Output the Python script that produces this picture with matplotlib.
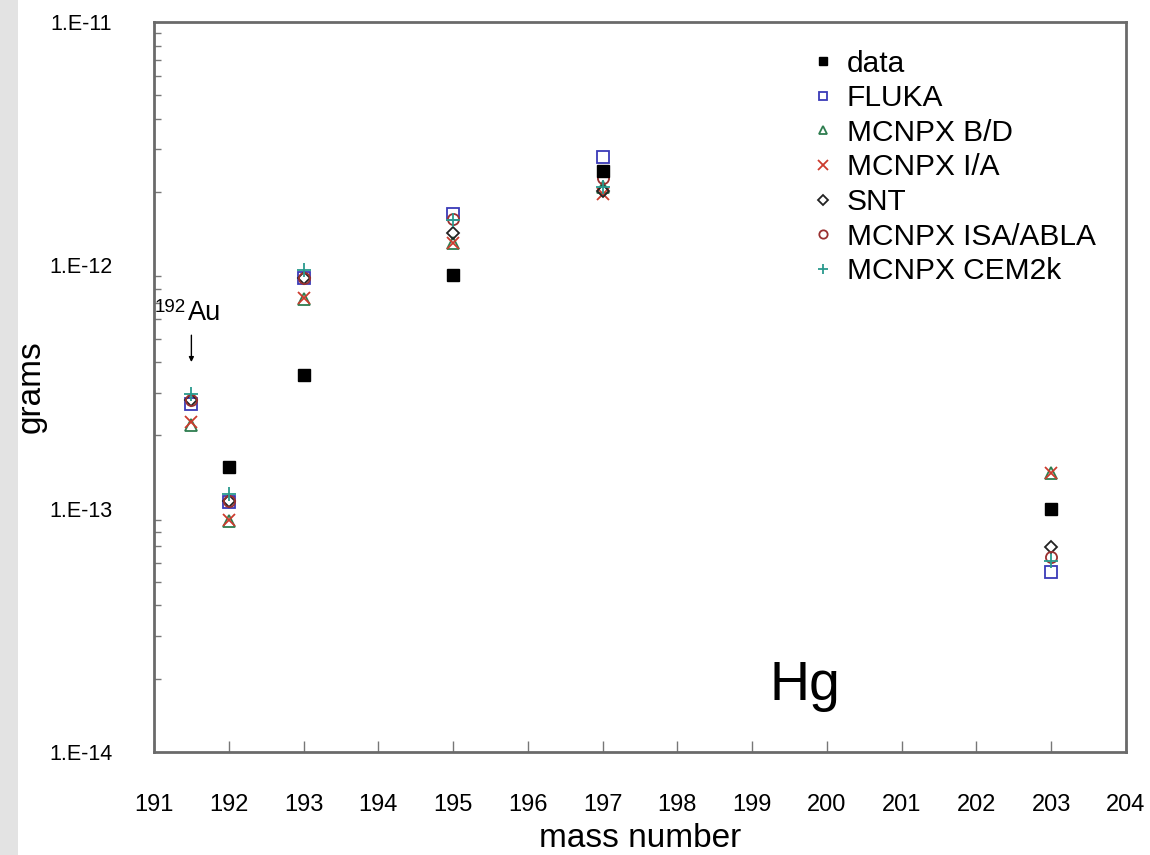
import numpy as np
import matplotlib.pyplot as plt
from matplotlib.patches import Rectangle
from matplotlib.ticker import FixedLocator, FuncFormatter, LogLocator, NullFormatter

plt.rcParams['font.family'] = ['Liberation Sans', 'DejaVu Sans']

# mass numbers (192Au plotted at 191.5)
mass = [191.5, 192, 193, 195, 197, 203]

data = [np.nan, 1.48e-13, 3.55e-13, 9.1e-13, 2.44e-12, 1.0e-13]
fluka = [2.7e-13, 1.07e-13, 8.9e-13, 1.63e-12, 2.79e-12, 5.5e-14]
mcnpx_bd = [2.2e-13, 8.9e-14, 7.3e-13, 1.24e-12, 2.1e-12, 1.4e-13]
mcnpx_ia = [2.27e-13, 9.0e-14, 7.35e-13, 1.24e-12, 1.97e-12, 1.4e-13]
snt = [2.8e-13, 1.08e-13, 8.9e-13, 1.36e-12, 2.03e-12, 6.95e-14]
isa_abla = [2.8e-13, 1.08e-13, 8.9e-13, 1.55e-12, 2.29e-12, 6.3e-14]
cem2k = [2.95e-13, 1.15e-13, 9.6e-13, 1.53e-12, 2.1e-12, 6.1e-14]

xticks = list(range(191, 205))

fig = plt.figure(figsize=(11.5, 8.55), dpi=100)
fig.patches.append(Rectangle((0, 0), 18 / 1150, 1, transform=fig.transFigure,
                             facecolor='#e3e3e3', edgecolor='none', zorder=0))
ax = fig.add_axes([154 / 1150, 103 / 855, 972 / 1150, 730 / 855])

ax.plot(mass, fluka, 's', mfc='none', mec='#3a3ab8', mew=1.3, ms=8, label='FLUKA')
ax.plot(mass, mcnpx_bd, '^', mfc='none', mec='#2e7d4f', mew=1.3, ms=8, label='MCNPX B/D')
ax.plot(mass, mcnpx_ia, 'x', color='#cc3b2e', mew=1.3, ms=9, label='MCNPX I/A')
ax.plot(mass, snt, 'D', mfc='none', mec='#222222', mew=1.3, ms=6.5, label='SNT')
ax.plot(mass, isa_abla, 'o', mfc='none', mec='#9a3030', mew=1.3, ms=8, label='MCNPX ISA/ABLA')
ax.plot(mass, cem2k, '+', color='#2a9a8e', mew=1.3, ms=10, label='MCNPX CEM2k')
ax.plot(mass, data, 's', color='black', ms=8, label='data', zorder=5)

ax.set_yscale('log')
ax.set_xlim(191, 204)
ax.set_ylim(1e-14, 1e-11)
ax.xaxis.set_major_locator(FixedLocator(xticks))
ax.yaxis.set_major_locator(FixedLocator([1e-14, 1e-13, 1e-12, 1e-11]))
ax.yaxis.set_major_formatter(FuncFormatter(lambda v, p: '1.E%d' % round(np.log10(v))))
ax.yaxis.set_minor_locator(LogLocator(base=10, subs=np.arange(2, 10)))
ax.yaxis.set_minor_formatter(NullFormatter())

ax.tick_params(axis='x', which='major', direction='in', length=8, width=1,
               color='#777777', labelsize=17, pad=30, top=False)
ax.tick_params(axis='y', which='major', direction='in', length=0, labelsize=15.5, pad=30)
ax.tick_params(axis='y', which='minor', direction='in', length=5, width=1, color='#777777')
for s in ax.spines.values():
    s.set_color('#6a6a6a')
    s.set_linewidth(2)

ax.set_xlabel('mass number', fontsize=24, labelpad=5)
ax.set_ylabel('grams', fontsize=24)
ax.yaxis.set_label_coords(-0.11, 0.5)

handles, labels = ax.get_legend_handles_labels()
order = [6, 0, 1, 2, 3, 4, 5]
ax.legend([handles[i] for i in order], [labels[i] for i in order],
          loc='upper left', bbox_to_anchor=(0.673, 0.962), frameon=False,
          borderaxespad=0, borderpad=0,
          fontsize=21.5, markerscale=0.75, handlelength=1.0, handletextpad=0.3,
          labelspacing=0.22)

# 192Au annotation
ax.annotate('', xy=(191.5, 3.9e-13), xytext=(191.5, 5.3e-13),
            arrowprops=dict(arrowstyle='-|>', lw=1, color='black', mutation_scale=7))
ax.text(191.01, 6.45e-13, '192', fontsize=13.5, ha='left', va='baseline')
ax.text(191.45, 5.95e-13, 'Au', fontsize=19.5, ha='left', va='baseline')

ax.text(199.7, 1.63e-14, 'Hg', fontsize=40, ha='center', va='baseline')

fig.savefig('out.png', dpi=100)
